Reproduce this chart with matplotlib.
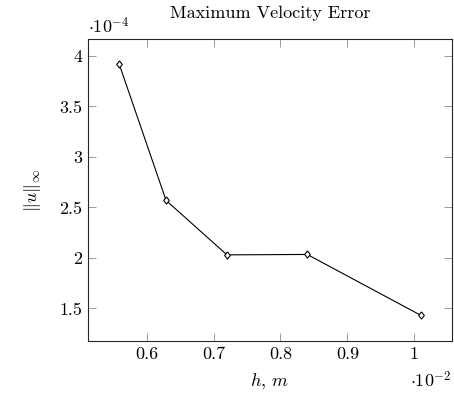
import matplotlib
matplotlib.use('Agg')
import matplotlib.pyplot as plt
import numpy as np

# grid spacing h (m) and max velocity error
h = [0.00559, 0.00629, 0.00720, 0.00840, 0.01010]
err = [3.918e-4, 2.569e-4, 2.030e-4, 2.034e-4, 1.430e-4]
xticks = [0.6, 0.7, 0.8, 0.9, 1.0]
yticks = [1.5, 2, 2.5, 3, 3.5, 4]

plt.rcParams['font.family'] = 'serif'
plt.rcParams['font.serif'] = ['cmr10']
plt.rcParams['mathtext.fontset'] = 'cm'
plt.rcParams['axes.unicode_minus'] = False
fs = 13
plt.rcParams['font.size'] = fs

fig = plt.figure(figsize=(4.54, 3.99), dpi=100)
ax = fig.add_axes([0.1938, 0.1454, 0.8012, 0.7569])

x = np.array(h) * 1e2
y = np.array(err) * 1e4
diamond = [(0, 1), (0.78, 0), (0, -1), (-0.78, 0), (0, 1)]
ax.plot(x, y, color='k', lw=0.8, marker=diamond, markersize=5.2,
        markerfacecolor='white', markeredgecolor='k', markeredgewidth=0.8)

ax.set_xlim(0.5123, 1.0559)
ax.set_ylim(1.177, 4.168)
ax.set_xticks(xticks)
ax.set_xticklabels(['0.6', '0.7', '0.8', '0.9', '1'])
ax.set_yticks(yticks)
ax.set_yticklabels(['1.5', '2', '2.5', '3', '3.5', '4'])
ax.tick_params(direction='in', top=True, right=True, length=5.5, width=0.6,
               color='0.55', pad=4, labelsize=fs)
for s in ax.spines.values():
    s.set_linewidth(0.8)
    s.set_color('0.15')

ax.set_title('Maximum Velocity Error', fontsize=fs, pad=15)
ax.set_xlabel('$h$, $m$', fontsize=fs, labelpad=7)
ax.set_ylabel(r'$\|u\|_\infty$', fontsize=fs, labelpad=12)

ax.text(0.0, 1.01, r'$\cdot 10^{-4}$', transform=ax.transAxes,
        ha='left', va='bottom', fontsize=fs)
ax.text(1.0, -0.095, r'$\cdot 10^{-2}$', transform=ax.transAxes,
        ha='right', va='top', fontsize=fs)

fig.savefig('out.png', dpi=100)
